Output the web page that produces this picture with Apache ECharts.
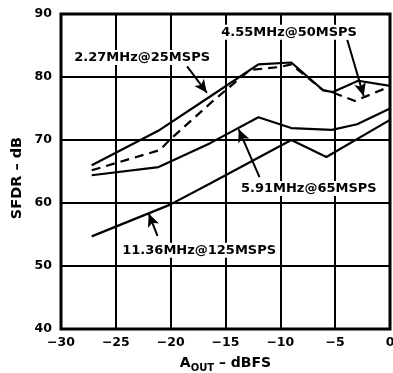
<!DOCTYPE html>
<html>
<head>
<meta charset="utf-8">
<script src="https://cdn.jsdelivr.net/npm/echarts@6/dist/echarts.min.js"></script>
<style>
  html, body { margin: 0; padding: 0; background: #fff; }
  #chart { width: 393px; height: 373px; }
</style>
</head>
<body>
<div id="chart"></div>
<script>
// SFDR vs output amplitude, four input/clock combinations
const xTicks = [-30, -25, -20, -15, -10, -5, 0];
const yTicks = [40, 50, 60, 70, 80, 90];

const x227 = [-27.2, -21.0, -16.4, -12.0, -9.0, -6.1, -5.2, -2.9, 0];
const y227 = [66.0, 71.6, 76.9, 82.0, 82.3, 77.9, 77.6, 79.4, 78.6];

const x455 = [-27.2, -21.0, -20.1, -16.4, -12.8, -10.0, -9.0, -6.1, -5.3, -3.2, 0];
const y455 = [65.2, 68.4, 70.0, 75.8, 81.1, 81.6, 82.0, 77.9, 77.6, 76.2, 78.5];

const x591 = [-27.2, -21.1, -16.4, -12.0, -9.0, -5.3, -3.0, 0];
const y591 = [64.4, 65.7, 69.5, 73.6, 71.9, 71.6, 72.5, 75.0];

const x1136 = [-27.2, -20.1, -16.4, -9.0, -5.8, 0];
const y1136 = [54.7, 59.7, 63.1, 70.0, 67.3, 73.2];

const seriesNames = ['2.27MHz@25MSPS', '4.55MHz@50MSPS', '5.91MHz@65MSPS', '11.36MHz@125MSPS'];
// label centres and arrow tails/heads, in axis units (dBFS, dB)
const labelPos = [[-22.6, 83.1], [-9.2, 87.1], [-7.4, 62.3], [-17.4, 52.5]];
const arrowFrom = [[-18.5, 81.7], [-3.9, 85.9], [-11.9, 64.1], [-21.2, 54.8]];
const arrowTo = [[-16.7, 77.5], [-2.4, 77.0], [-13.8, 71.7], [-22.0, 58.3]];

const pairs = (xs, ys) => xs.map((x, i) => [x, ys[i]]);
const FONT = 'DejaVu Sans';

const chart = echarts.init(document.getElementById('chart'), null, { renderer: 'canvas' });

function makeSeries(name, xs, ys, dashed, idx) {
  return {
    name: name,
    type: 'line',
    data: pairs(xs, ys),
    symbol: 'none',
    silent: true,
    animation: false,
    z: 3,
    lineStyle: { color: '#000', width: 2.2, type: dashed ? [9, 6] : 'solid' },
    markLine: {
      silent: true,
      animation: false,
      symbol: ['none', 'arrow'],
      symbolSize: [9, 13],
      label: { show: false },
      lineStyle: { color: '#000', width: 2, type: 'solid' },
      data: [[{ coord: arrowFrom[idx] }, { coord: arrowTo[idx] }]]
    }
  };
}

const option = {
  backgroundColor: '#fff',
  animation: false,
  grid: {
    left: 61, right: 3, top: 14, bottom: 44,
    containLabel: false,
    outerBoundsMode: 'none',
    show: true, borderColor: '#000', borderWidth: 3, backgroundColor: 'transparent', z: 4
  },
  xAxis: {
    type: 'value', min: -30, max: 0, interval: 5,
    axisLine: { show: false },
    axisTick: { show: false },
    splitLine: { show: true, lineStyle: { color: '#000', width: 2 } },
    axisLabel: {
      margin: 7, color: '#000', fontFamily: FONT, fontWeight: 'bold', fontSize: 12.5,
      formatter: v => (v < 0 ? '\u2212' + Math.abs(v) : String(v))
    },
    name: '{a|A}{s|OUT}{a| \u2013 dBFS}',
    nameLocation: 'middle',
    nameGap: 24,
    nameTextStyle: {
      rich: {
        a: { fontFamily: FONT, fontWeight: 'bold', fontSize: 14, color: '#000', lineHeight: 20, verticalAlign: 'middle' },
        s: { fontFamily: FONT, fontWeight: 'bold', fontSize: 10, color: '#000', lineHeight: 20, verticalAlign: 'bottom' }
      }
    }
  },
  yAxis: {
    type: 'value', min: 40, max: 90, interval: 10,
    axisLine: { show: false },
    axisTick: { show: false },
    splitLine: { show: true, lineStyle: { color: '#000', width: 2 } },
    axisLabel: { margin: 9, color: '#000', fontFamily: FONT, fontWeight: 'bold', fontSize: 12.5 }
  },
  series: [
    makeSeries(seriesNames[0], x227, y227, false, 0),
    makeSeries(seriesNames[1], x455, y455, true, 1),
    makeSeries(seriesNames[2], x591, y591, false, 2),
    makeSeries(seriesNames[3], x1136, y1136, false, 3)
  ]
};

chart.setOption(option);

// curve labels (white boxed) and the rotated y-axis title
const labels = seriesNames.map((name, i) => {
  const p = chart.convertToPixel({ gridIndex: 0 }, labelPos[i]);
  return {
    type: 'text',
    x: p[0], y: p[1], z: 10,
    style: {
      text: name, fill: '#000', font: 'bold 13px "' + FONT + '"',
      align: 'center', verticalAlign: 'middle',
      backgroundColor: '#fff', padding: [1, 2]
    }
  };
});
labels.push({
  type: 'text', x: 17, y: 178, rotation: Math.PI / 2, z: 10,
  style: {
    text: 'SFDR \u2013 dB', fill: '#000', font: 'bold 14.5px "' + FONT + '"',
    align: 'center', verticalAlign: 'middle'
  }
});
chart.setOption({ graphic: labels });
</script>
</body>
</html>
